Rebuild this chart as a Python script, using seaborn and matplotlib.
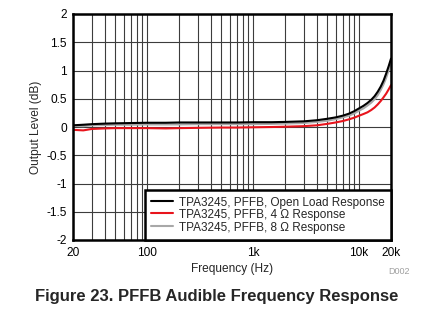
import numpy as np
import pandas as pd
import matplotlib
matplotlib.use("Agg")
import matplotlib.pyplot as plt
from matplotlib.ticker import FixedLocator, NullFormatter
import seaborn as sns

freq = [20, 25, 30, 40, 50, 70, 100, 150, 200, 300, 500, 700, 1000, 1500, 2000,
        3000, 4000, 5000, 6000, 7000, 8000, 9000, 10000, 11000, 12000, 13000,
        14000, 15000, 16000, 17000, 18000, 19000, 20000]
open_load = [0.03, 0.04, 0.05, 0.06, 0.065, 0.07, 0.075, 0.075, 0.08, 0.08, 0.08, 0.08,
             0.085, 0.085, 0.09, 0.10, 0.12, 0.145, 0.17, 0.20, 0.235, 0.28, 0.33, 0.375,
             0.425, 0.48, 0.545, 0.625, 0.715, 0.82, 0.945, 1.075, 1.21]
load_4ohm = [-0.05, -0.06, -0.035, -0.025, -0.02, -0.02, -0.02, -0.025, -0.02, -0.015,
             -0.01, -0.01, -0.005, 0.0, 0.005, 0.015, 0.03, 0.055, 0.08, 0.105, 0.135,
             0.165, 0.20, 0.23, 0.26, 0.30, 0.345, 0.40, 0.46, 0.525, 0.59, 0.665, 0.74]
load_8ohm = [0.02, 0.015, 0.03, 0.035, 0.04, 0.04, 0.045, 0.045, 0.045, 0.05, 0.05, 0.05,
             0.05, 0.055, 0.06, 0.07, 0.09, 0.11, 0.14, 0.17, 0.20, 0.24, 0.29, 0.33,
             0.38, 0.43, 0.49, 0.565, 0.655, 0.755, 0.87, 1.005, 1.15]
series_names = ["TPA3245, PFFB, Open Load Response",
                "TPA3245, PFFB, 4 \u03a9 Response",
                "TPA3245, PFFB, 8 \u03a9 Response"]
series_colors = ["#000000", "#e8141c", "#a8a8a8"]
x_ticks = [20, 100, 1000, 10000, 20000]
x_ticklabels = ["20", "100", "1k", "10k", "20k"]
y_ticks = [-2, -1.5, -1, -0.5, 0, 0.5, 1, 1.5, 2]
y_ticklabels = ["-2", "-1.5", "-1", "-0.5", "0", "0.5", "1", "1.5", "2"]

df = pd.DataFrame({
    "freq": freq * 3,
    "value": open_load + load_4ohm + load_8ohm,
    "series": [series_names[0]] * len(freq) + [series_names[1]] * len(freq) + [series_names[2]] * len(freq),
})

sns.set_style("white")
plt.rcParams["font.family"] = ["Liberation Sans", "DejaVu Sans"]

fig = plt.figure(figsize=(4.33, 3.30), dpi=100)
ax = fig.add_axes([73 / 433, 1 - 240 / 330, (391 - 73) / 433, (240 - 14) / 330])

# draw gray first, then red, then black on top
order = [2, 1, 0]
for i in order:
    sub = df[df["series"] == series_names[i]]
    sns.lineplot(data=sub, x="freq", y="value", color=series_colors[i], lw=1.5,
                 ax=ax, label=series_names[i], zorder=3 + (2 - i))

ax.set_xscale("log")
ax.set_xlim(20, 20000)
ax.set_ylim(-2, 2)

minor = []
for dec in [10, 100, 1000, 10000]:
    for m in range(2, 10):
        v = dec * m
        if 20 < v < 20000:
            minor.append(v)
ax.xaxis.set_major_locator(FixedLocator(x_ticks))
ax.set_xticklabels(x_ticklabels)
ax.xaxis.set_minor_locator(FixedLocator(minor))
ax.xaxis.set_minor_formatter(NullFormatter())
ax.set_yticks(y_ticks)
ax.set_yticklabels(y_ticklabels)

ax.grid(True, which="both", axis="x", color="#3c3c3c", lw=0.8)
ax.grid(True, which="major", axis="y", color="#3c3c3c", lw=0.8)
ax.set_axisbelow(True)
ax.tick_params(axis="both", which="both", length=0, labelsize=8.6, colors="#000000")
ax.tick_params(axis="y", pad=4.5)
ax.tick_params(axis="x", pad=5)

for s in ax.spines.values():
    s.set_visible(True)
    s.set_color("black")
    s.set_linewidth(1.8)
    s.set_zorder(10)

ax.set_xlabel("Frequency (Hz)", fontsize=8.6, labelpad=3)
ax.set_ylabel("Output Level (dB)", fontsize=8.6, labelpad=3)

handles, labels = ax.get_legend_handles_labels()
hmap = dict(zip(labels, handles))
leg = ax.legend([hmap[n] for n in series_names], series_names, loc="lower right",
                fontsize=8.5, frameon=True, fancybox=False, framealpha=1,
                edgecolor="black", borderaxespad=0, handlelength=1.85,
                handleheight=1.12, handletextpad=0.55, labelspacing=0.0,
                borderpad=0.5)
leg.get_frame().set_linewidth(1.8)
leg.set_zorder(20)

fig.text(399 / 433, 1 - 272 / 330, "D002", fontsize=6.5, color="#a0a0a0",
         ha="center", va="center")
fig.text(217 / 433, 1 - 297 / 330, "Figure 23. PFFB Audible Frequency Response",
         fontsize=12, fontweight="bold", ha="center", va="center")

fig.savefig("out.png", dpi=100)
